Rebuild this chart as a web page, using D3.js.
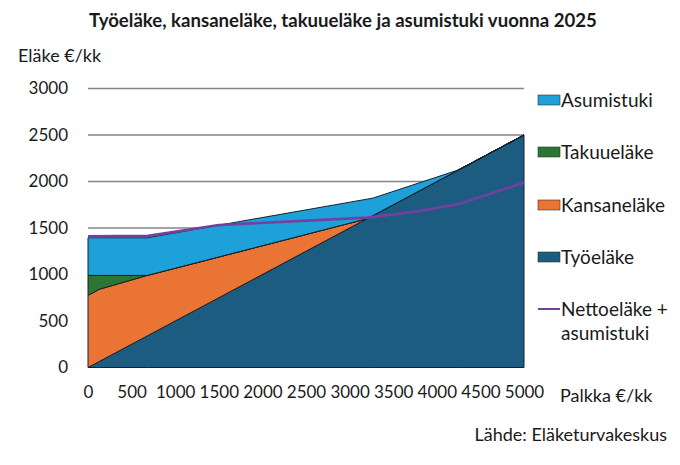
<!DOCTYPE html>
<html>
<head>
<meta charset="utf-8">
<script src="https://cdn.jsdelivr.net/npm/d3@7"></script>
<style>
  body { margin: 0; background: #fff; }
  text { font-family: Lato, "Open Sans", sans-serif; fill: #1a1a1a; }
</style>
</head>
<body>
<svg id="chart"></svg>
<script>
const width = 680;
const height = 465;

// stacked areas, € / month
const salary = [0, 130, 680, 3200, 3270, 4250, 5000];
const tyoelake = [0, 65, 340, 1600, 1635, 2125, 2500];
const kansanelake = [776, 776, 650, 0, 0, 0, 0];
const takuuelake = [214, 149, 0, 0, 0, 0, 0];
const asumistuki = [405, 405, 405, 210, 187, 0, 0];

// net pension + housing allowance line
const nettoSalary = [0, 690, 1500, 3200, 3700, 4250, 5000];
const netto = [1410, 1415, 1532, 1612, 1668, 1755, 1990];

const yTicks = [0, 500, 1000, 1500, 2000, 2500, 3000];
const xTicks = [0, 500, 1000, 1500, 2000, 2500, 3000, 3500, 4000, 4500, 5000];

const keys = ['tyo', 'kansan', 'takuu', 'asumis'];
const colors = { tyo: '#1b5c80', kansan: '#ea7434', takuu: '#2b7632', asumis: '#1ea0d9' };
const legendItems = [
  { key: 'asumis', label: 'Asumistuki' },
  { key: 'takuu', label: 'Takuueläke' },
  { key: 'kansan', label: 'Kansaneläke' },
  { key: 'tyo', label: 'Työeläke' },
];

const rows = salary.map((s, i) => ({
  salary: s,
  tyo: tyoelake[i],
  kansan: kansanelake[i],
  takuu: takuuelake[i],
  asumis: asumistuki[i],
}));

const svg = d3.select('#chart').attr('width', width).attr('height', height);

const x = d3.scaleLinear().domain([0, 5000]).range([88, 524]);
const y = d3.scaleLinear().domain([0, 3000]).range([367.5, 88.5]);

// grid
svg.append('g')
  .selectAll('line')
  .data(yTicks.filter((d) => d > 0))
  .join('line')
  .attr('x1', x(0))
  .attr('x2', x(5000))
  .attr('y1', (d) => y(d))
  .attr('y2', (d) => y(d))
  .attr('stroke', '#858585')
  .attr('stroke-width', 1.4);

const stacked = d3.stack().keys(keys)(rows);

const area = d3
  .area()
  .x((d) => x(d.data.salary))
  .y0((d) => y(d[0]))
  .y1((d) => y(d[1]));

svg.append('g')
  .selectAll('path')
  .data(stacked)
  .join('path')
  .attr('d', area)
  .attr('fill', (d) => colors[d.key])
  .attr('stroke', '#17202a')
  .attr('stroke-width', 1)
  .attr('stroke-linejoin', 'round');

const line = d3
  .line()
  .x((d) => x(d[0]))
  .y((d) => y(d[1]));

svg.append('path')
  .datum(nettoSalary.map((s, i) => [s, netto[i]]))
  .attr('d', line)
  .attr('fill', 'none')
  .attr('stroke', '#7440a0')
  .attr('stroke-width', 2.6);

// axes
const yAxis = svg.append('g')
  .attr('transform', `translate(${x(0)},0)`)
  .call(d3.axisLeft(y).tickValues(yTicks).tickFormat(d3.format('d')).tickSize(0).tickPadding(20));
yAxis.select('.domain').remove();
yAxis.selectAll('text').attr('font-size', 17).attr('font-family', 'Lato').attr('fill', '#1a1a1a');

const xAxis = svg.append('g')
  .attr('transform', `translate(0,${y(0)})`)
  .call(d3.axisBottom(x).tickValues(xTicks).tickFormat(d3.format('d')).tickSize(0).tickPadding(18));
xAxis.select('.domain').remove();
xAxis.selectAll('text').attr('font-size', 17).attr('font-family', 'Lato').attr('fill', '#1a1a1a');

// texts
svg.append('text')
  .attr('x', 343)
  .attr('y', 27)
  .attr('text-anchor', 'middle')
  .attr('font-weight', 'bold')
  .attr('font-size', 18.6)
  .text('Työeläke, kansaneläke, takuueläke ja asumistuki vuonna 2025');

svg.append('text').attr('x', 18).attr('y', 62).attr('font-size', 18).text('Eläke €/kk');
svg.append('text').attr('x', 560).attr('y', 402).attr('font-size', 18).text('Palkka €/kk');
svg.append('text')
  .attr('x', 667)
  .attr('y', 441)
  .attr('text-anchor', 'end')
  .attr('font-size', 18)
  .text('Lähde: Eläketurvakeskus');

// legend
const legend = svg.append('g');
const legendY = [100, 152, 205, 257];
legendItems.forEach((item, i) => {
  legend.append('rect')
    .attr('x', 538)
    .attr('y', legendY[i] - 5)
    .attr('width', 22)
    .attr('height', 10)
    .attr('fill', colors[item.key])
    .attr('stroke', '#333')
    .attr('stroke-width', 0.6);
  legend.append('text')
    .attr('x', 561)
    .attr('y', legendY[i])
    .attr('dy', '0.36em')
    .attr('font-size', 19)
    .text(item.label);
});
legend.append('line')
  .attr('x1', 538)
  .attr('x2', 560)
  .attr('y1', 309)
  .attr('y2', 309)
  .attr('stroke', '#7440a0')
  .attr('stroke-width', 2);
legend.append('text').attr('x', 561).attr('y', 309).attr('dy', '0.36em').attr('font-size', 19).text('Nettoeläke +');
legend.append('text').attr('x', 561).attr('y', 333).attr('dy', '0.36em').attr('font-size', 19).text('asumistuki');
</script>
</body>
</html>
